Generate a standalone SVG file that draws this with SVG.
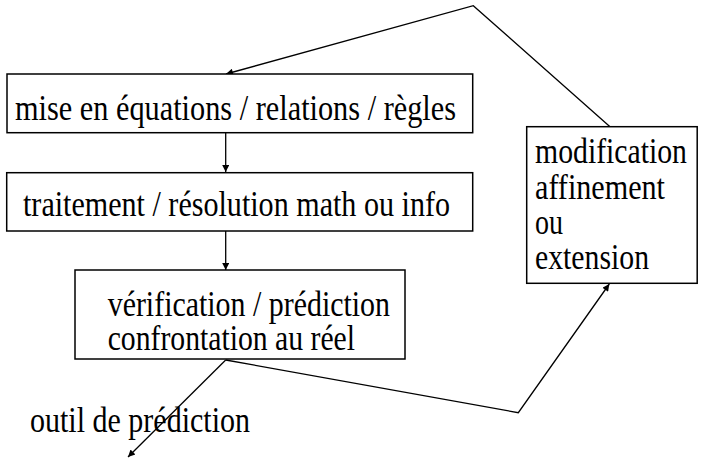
<svg xmlns="http://www.w3.org/2000/svg" width="703" height="458" viewBox="0 0 703 458">
<style>
.box{fill:#fff;stroke:#000;stroke-width:1.5}
.t{font-family:"Liberation Serif",serif;font-size:35px;fill:#000}
.c{fill:none;stroke:#000;stroke-width:1.3}
</style>
<defs>
<marker id="ah" viewBox="0 0 10 10" refX="10" refY="5" markerWidth="9" markerHeight="7" markerUnits="userSpaceOnUse" orient="auto">
<path d="M0,0 L10,5 L0,10 z" fill="#000"/>
</marker>
</defs>
<rect width="703" height="458" fill="#fff"/>
<g id="connectors">
<polyline class="c" points="610,126.7 473.3,5.7 226,74" marker-end="url(#ah)"/>
<line class="c" x1="225.7" y1="133" x2="225.7" y2="172" marker-end="url(#ah)"/>
<line class="c" x1="225.7" y1="231" x2="225.7" y2="270" marker-end="url(#ah)"/>
<polyline class="c" points="225.7,360 518.3,412.7 609.3,284" marker-end="url(#ah)"/>
<line class="c" x1="225.7" y1="360" x2="128" y2="457" marker-end="url(#ah)"/>
</g>
<g id="n1">
<rect class="box" x="7" y="74" width="465.7" height="58.7"/>
<text class="t" x="15" y="120" textLength="441" lengthAdjust="spacingAndGlyphs">mise en équations / relations / règles</text>
</g>
<g id="n2">
<rect class="box" x="6.7" y="172.7" width="466" height="58.3"/>
<text class="t" x="23" y="215.5" textLength="427" lengthAdjust="spacingAndGlyphs">traitement / résolution math ou info</text>
</g>
<g id="n3">
<rect class="box" x="75" y="270" width="330" height="89"/>
<text class="t" x="107.7" y="316" textLength="282.3" lengthAdjust="spacingAndGlyphs">vérification / prédiction</text>
<text class="t" x="107.7" y="350" textLength="247.3" lengthAdjust="spacingAndGlyphs">confrontation au réel</text>
</g>
<g id="n4">
<rect class="box" x="526.7" y="126.7" width="170.5" height="156.6"/>
<text class="t" x="535" y="163" textLength="152" lengthAdjust="spacingAndGlyphs">modification</text>
<text class="t" x="535" y="198.5" textLength="130" lengthAdjust="spacingAndGlyphs">affinement</text>
<text class="t" x="535" y="233.5" textLength="28" lengthAdjust="spacingAndGlyphs">ou</text>
<text class="t" x="535" y="269" textLength="114" lengthAdjust="spacingAndGlyphs">extension</text>
</g>
<g id="n5">
<text class="t" x="30" y="432" textLength="220" lengthAdjust="spacingAndGlyphs">outil de prédiction</text>
</g>
</svg>
